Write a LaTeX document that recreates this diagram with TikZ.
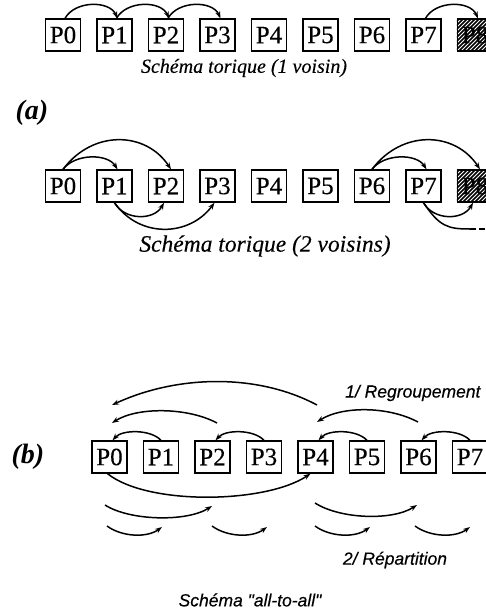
\documentclass[tikz,border=0pt]{standalone}
\usepackage{fontspec}
\setmainfont{Liberation Serif}
\newfontfamily\capfont{Liberation Serif}[ItalicFont={Liberation Serif Italic},ItalicFeatures={FakeBold=0.25}]
\newfontfamily\boxfont[FakeBold=0.3]{Liberation Serif}
\newfontfamily\lsans[FakeBold=0.3]{Liberation Sans}
\usetikzlibrary{arrows.meta}
\begin{document}
\begin{tikzpicture}[x=1pt,y=-1pt,
  box/.style={draw,line width=1.3pt,minimum width=35pt,minimum height=32pt,inner sep=0pt,font=\boxfont\fontsize{25}{25}\selectfont},
  arr/.style={line width=1.5pt,-{Stealth[length=7pt,width=5pt]}},
  ln/.style={line width=1.5pt},
  capa/.style={font=\capfont\fontsize{20}{20}\selectfont\itshape},
  capb/.style={font=\capfont\fontsize{23.5}{23.5}\selectfont\itshape},
  tag/.style={font=\fontsize{28}{28}\selectfont\bfseries\itshape},
  lab/.style={font=\lsans\fontsize{17.5}{17.5}\selectfont\itshape},
  hatch/.style={line width=1.6pt}]
\clip (0,0) rectangle (486,611);
\fill[white] (0,0) rectangle (486,611);
% ---------- row 1 ----------
\foreach \i in {0,...,8} \node[box] (a\i) at ({63+51.5*\i},35) {P\i};
\begin{scope}
  \clip (a8.south west) rectangle (a8.north east);
  \foreach \k in {-48,-44,...,48} \draw[hatch] ([xshift=\k pt]a8.center) ++(-30pt,-30pt) -- ++(60pt,60pt);
\end{scope}
\foreach \i/\j in {0/1,1/2,2/3,7/8}
  \draw[arr] ([xshift=2pt]a\i.north) .. controls +(10,-18) and +(-8,-18) .. ([xshift=3pt]a\j.north);
\node[capa] (cap1) at (244,68) {Schéma torique (1 voisin)};
\node[tag] (la) at (32,113) {(a)};
% ---------- row 2 ----------
\foreach \i in {0,...,8} \node[box] (b\i) at ({63+51.5*\i},186) {P\i};
\begin{scope}
  \clip (b8.south west) rectangle (b8.north east);
  \foreach \k in {-48,-44,...,48} \draw[hatch] ([xshift=\k pt]b8.center) ++(-30pt,-30pt) -- ++(60pt,60pt);
\end{scope}
\foreach \p/\q/\r in {0/1/2,6/7/8}{
  \draw[arr] (b\p.north) .. controls +(12,-16) and +(-10,-16) .. ([xshift=3pt]b\q.north);
  \draw[arr] (b\p.north) .. controls +(30,-40) and +(-25,-38) .. ([xshift=5pt]b\r.north);
}
\draw[arr] (b1.south) .. controls +(10,18) and +(-10,18) .. ([xshift=-2pt]b2.south);
\draw[arr] (b1.south) .. controls +(25,36) and +(-25,34) .. ([xshift=-3pt]b3.south);
\draw[arr] (b7.south) .. controls +(10,18) and +(-10,18) .. ([xshift=-2pt]b8.south);
\coordinate (d1) at (470,229);
\coordinate (dE) at (492,229);
\draw[ln] (b7.south) .. controls +(16,24) and +(-22,0) .. (d1);
\draw[ln,dash pattern=on 6pt off 3pt] (d1) -- (dE);
\node[capb] (cap2) at (265,246) {Schéma torique (2 voisins)};
% ---------- row 3 ----------
\foreach \i in {0,...,7} \node[box] (c\i) at ({109.5+51.5*\i},457) {P\i};
\foreach \i/\j in {1/0,3/2,5/4,7/6}
  \draw[arr] (c\i.north) .. controls +(-10,-11) and +(10,-11) .. ([xshift=3pt]c\j.north);
\coordinate (g1s) at (217,423); \coordinate (g1e) at (112,423);
\coordinate (g2s) at (418,422); \coordinate (g2e) at (317,422);
\coordinate (g3s) at (317,405); \coordinate (g3e) at (112,405);
\draw[arr] (g1s) .. controls +(-30,-16) and +(25,-16) .. (g1e);
\draw[arr] (g2s) .. controls +(-30,-16) and +(25,-16) .. (g2e);
\draw[arr] (g3s) .. controls +(-60,-32) and +(65,-30) .. (g3e);
\draw[arr] ([xshift=-2pt]c0.south) .. controls +(40,32) and +(-45,30) .. ([xshift=-5pt]c4.south);
\coordinate (s1s) at (105,505); \coordinate (s1e) at (212,506);
\coordinate (s2s) at (315,503); \coordinate (s2e) at (417,505);
\draw[arr] (s1s) .. controls +(25,16) and +(-25,16) .. (s1e);
\draw[arr] (s2s) .. controls +(25,16) and +(-25,16) .. (s2e);
\foreach \k/\xs in {1/107,2/212,3/315,4/415}{
  \coordinate (t\k s) at (\xs,526);
  \coordinate (t\k e) at (\xs+55,527);
  \draw[arr] (t\k s) .. controls +(15,11) and +(-15,11) .. (t\k e);
}
\node[tag] (lb) at (28,457) {(b)};
\node[lab,anchor=east] (reg) at (484,393) {1/ Regroupement};
\node[lab] (rep) at (395,560) {2/ Répartition};
\node[lab] (cap3) at (250,600) {Schéma "all-to-all"};
\end{tikzpicture}
\end{document}
